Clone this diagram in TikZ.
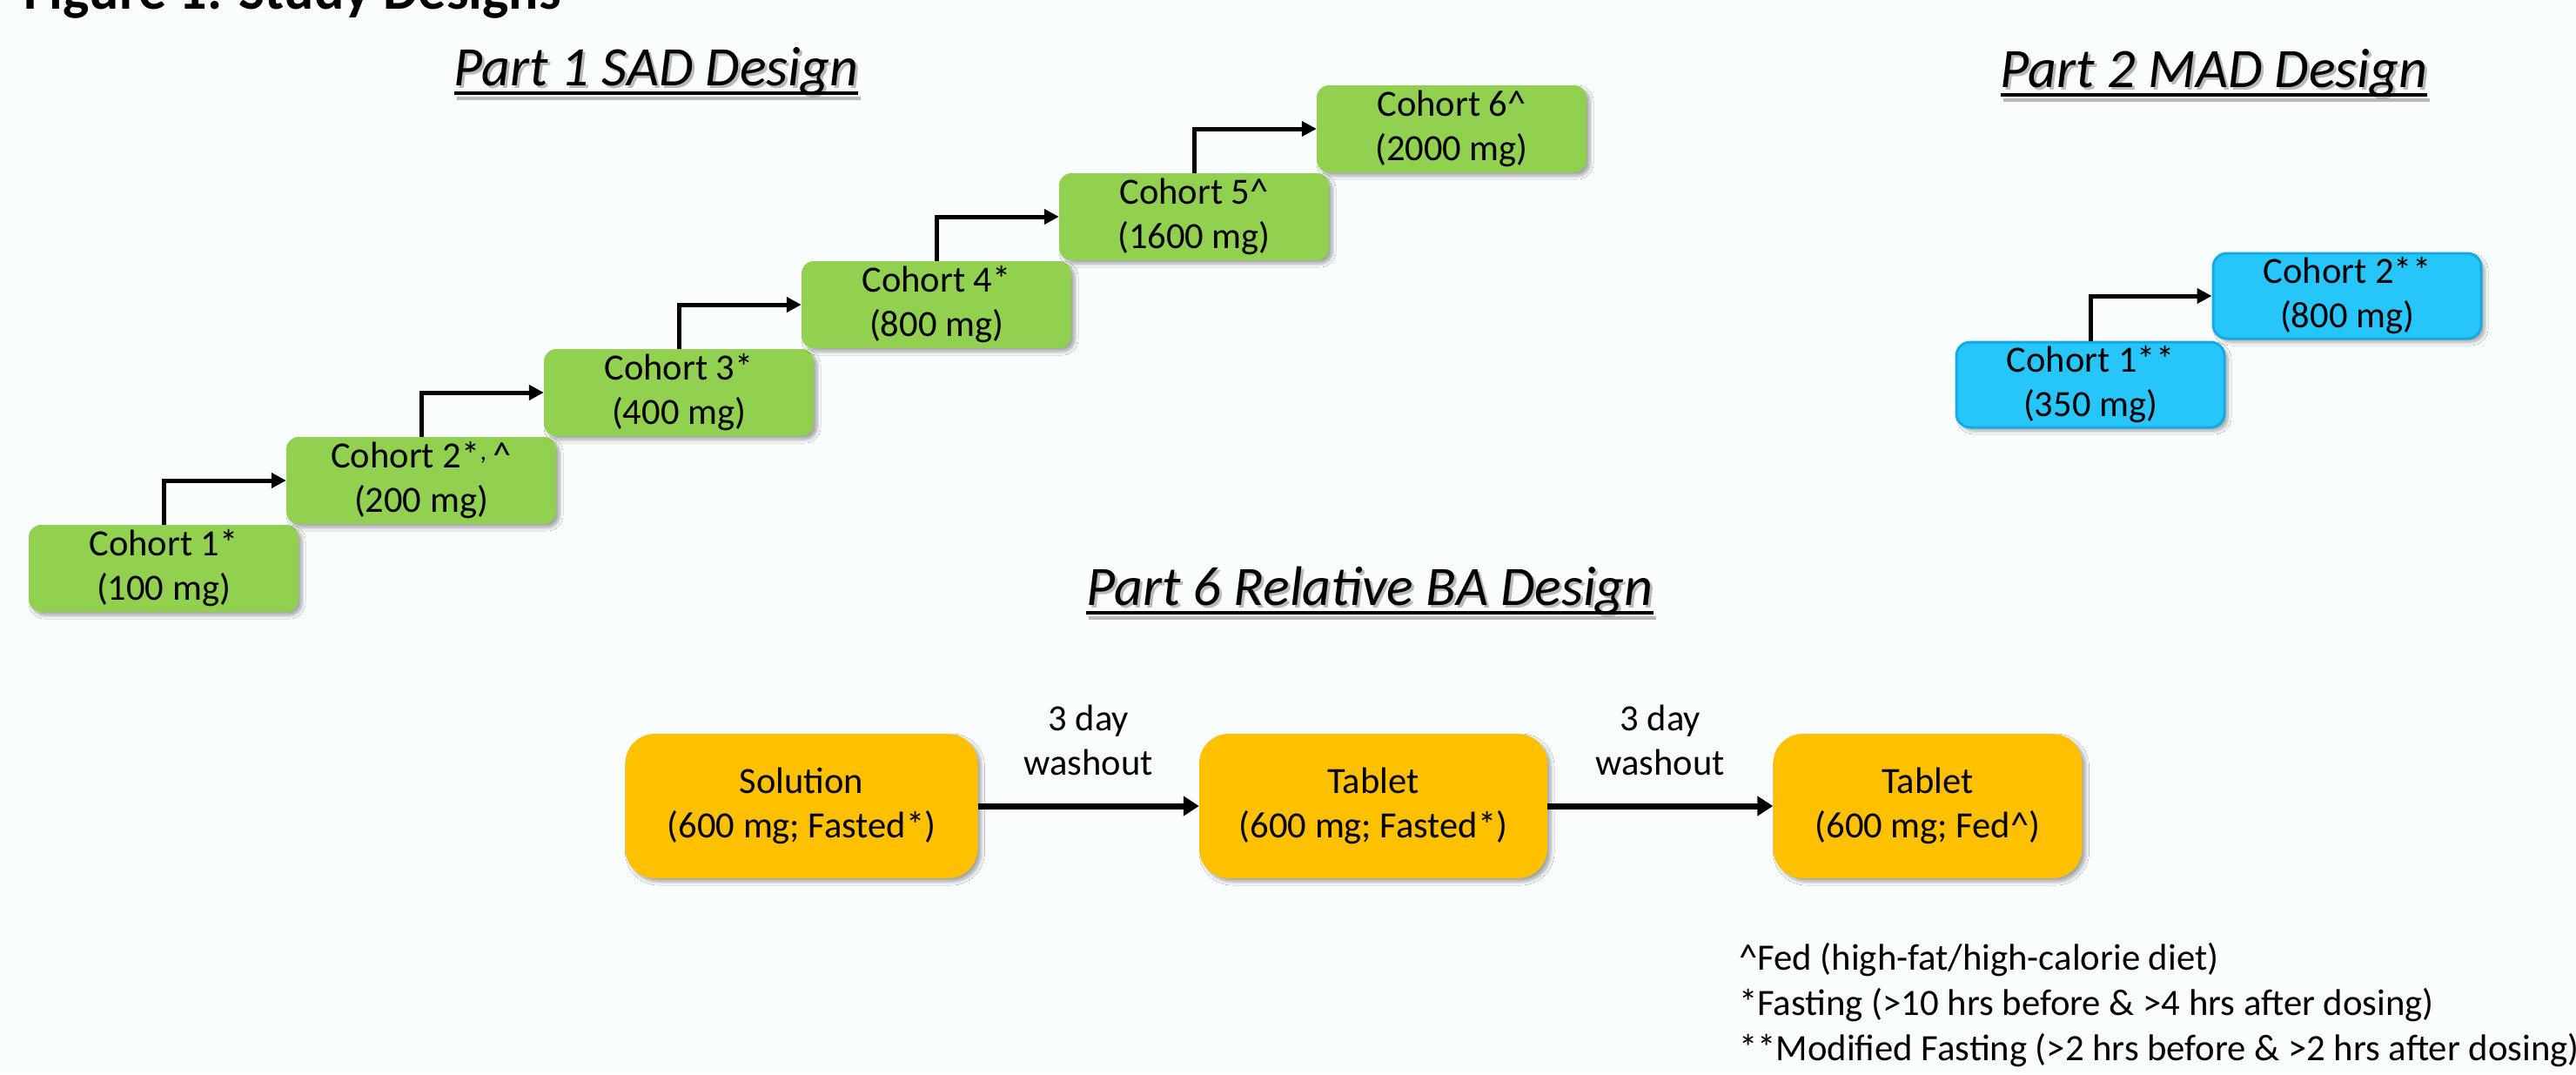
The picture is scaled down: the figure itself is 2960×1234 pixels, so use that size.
\documentclass[tikz,border=0pt]{standalone}
\usepackage{fontspec}
\setmainfont{Carlito}
\usetikzlibrary{arrows.meta,shadows.blur}

\definecolor{pagebg}{RGB}{250,253,254}
\definecolor{sadgreen}{RGB}{146,208,80}
\definecolor{madcyan}{RGB}{38,198,250}
\definecolor{madedge}{RGB}{22,170,228}
\definecolor{baorange}{RGB}{255,192,0}

\newcommand\boxtextfont{\fontsize{42.5}{51}\selectfont}
\newcommand\notetextfont{\fontsize{42.7}{52}\selectfont}
\newcommand\headtextfont{\fontsize{64}{76}\selectfont\itshape}
\newcommand\titletextfont{\fontsize{64}{76}\selectfont\bfseries}

\tikzset{
  softshadow/.style={blur shadow={shadow xshift=4pt,shadow yshift=-4pt,
      shadow blur steps=6,shadow blur radius=4pt,shadow opacity=35}},
  sadbox/.style={rounded corners=14pt, fill=sadgreen, minimum width=310pt,
      minimum height=100pt, align=center, font=\boxtextfont, inner sep=0pt, softshadow},
  madbox/.style={rounded corners=16pt, fill=madcyan, draw=madedge, line width=3pt,
      minimum width=308pt, minimum height=98pt, align=center, font=\boxtextfont,
      inner sep=0pt, softshadow},
  babox/.style={rounded corners=34pt, fill=baorange, minimum height=166pt,
      align=center, font=\boxtextfont, inner sep=0pt, softshadow},
  steparrow/.style={line width=5pt, -{Triangle[length=17pt,width=17pt]}},
  washarrow/.style={line width=7pt, -{Triangle[length=18pt,width=22pt]}},
  heading/.style={font=\headtextfont, inner sep=0pt, anchor=base},
  headshade/.style={heading, text=black!45, opacity=0.6},
  washlabel/.style={font=\boxtextfont, align=center, inner sep=0pt},
  note/.style={font=\notetextfont, inner sep=0pt, anchor=base west}
}

\begin{document}
\begin{tikzpicture}[x=1pt,y=-1pt]
  % page
  \fill[pagebg] (0,0) rectangle (2960,1234);
  \useasboundingbox (0,0) rectangle (2960,1234);

  % figure title (runs off the top edge of the page)
  \node[font=\titletextfont, inner sep=0pt, anchor=base west] (title) at (27,10) {Figure 1. Study Designs};

  % section headings with a soft text shadow and underline
  \node[headshade] (h1s) at (757,101) {Part 1 SAD Design};
  \draw[line width=4pt, black!45, opacity=0.6] ([yshift=-12pt]h1s.base west) -- ([yshift=-12pt]h1s.base east);
  \node[heading] (h1) at (754,98) {Part 1 SAD Design};
  \draw[line width=4pt] ([yshift=-9pt]h1.base west) -- ([yshift=-9pt]h1.base east);

  \node[headshade] (h2s) at (2547,103) {Part 2 MAD Design};
  \draw[line width=4pt, black!45, opacity=0.6] ([yshift=-12pt]h2s.base west) -- ([yshift=-12pt]h2s.base east);
  \node[heading] (h2) at (2544,100) {Part 2 MAD Design};
  \draw[line width=4pt] ([yshift=-9pt]h2.base west) -- ([yshift=-9pt]h2.base east);

  \node[headshade] (h6s) at (1577,698) {Part 6 Relative BA Design};
  \draw[line width=4pt, black!45, opacity=0.6] ([yshift=-12pt]h6s.base west) -- ([yshift=-12pt]h6s.base east);
  \node[heading] (h6) at (1574,695) {Part 6 Relative BA Design};
  \draw[line width=4pt] ([yshift=-9pt]h6.base west) -- ([yshift=-9pt]h6.base east);

  % Part 1: single ascending dose cohorts
  \node[sadbox] (c1) at (188,653) {Cohort 1*\\(100 mg)};
  \node[sadbox] (c2) at (484,552) {Cohort 2*\textsuperscript{,}\,\textasciicircum\\(200 mg)};
  \node[sadbox] (c3) at (780,451) {Cohort 3*\\(400 mg)};
  \node[sadbox] (c4) at (1076,350) {Cohort 4*\\(800 mg)};
  \node[sadbox] (c5) at (1372,249) {Cohort 5\textasciicircum\\(1600 mg)};
  \node[sadbox] (c6) at (1668,148) {Cohort 6\textasciicircum\\(2000 mg)};

  \draw[steparrow] (c1.north) |- (c2.west);
  \draw[steparrow] (c2.north) |- (c3.west);
  \draw[steparrow] (c3.north) |- (c4.west);
  \draw[steparrow] (c4.north) |- (c5.west);
  \draw[steparrow] (c5.north) |- (c6.west);

  % Part 2: multiple ascending dose cohorts
  \node[madbox] (m1) at (2402,442) {Cohort 1**\\(350 mg)};
  \node[madbox] (m2) at (2697,340) {Cohort 2**\\(800 mg)};
  \draw[steparrow] (m1.north) |- (m2.west);

  % Part 6: relative bioavailability sequence
  \node[babox, minimum width=405pt] (sol) at (921,926) {Solution\\(600 mg; Fasted*)};
  \node[babox, minimum width=400pt] (tab1) at (1578,926) {Tablet\\(600 mg; Fasted*)};
  \node[babox, minimum width=355pt] (tab2) at (2215,926) {Tablet\\(600 mg; Fed\textasciicircum)};

  \draw[washarrow] (sol.east) -- node[washlabel, above=32pt] (w1) {3 day\\washout} (tab1.west);
  \draw[washarrow] (tab1.east) -- node[washlabel, above=32pt] (w2) {3 day\\washout} (tab2.west);

  % footnotes
  \node[note] (n1) at (1998,1114) {\textasciicircum Fed (high-fat/high-calorie diet)};
  \node[note] (n2) at (1998,1166) {*Fasting (>10 hrs before \& >4 hrs after dosing)};
  \node[note] (n3) at (1998,1218) {**Modified Fasting (>2 hrs before \& >2 hrs after dosing)};
\end{tikzpicture}
\end{document}
